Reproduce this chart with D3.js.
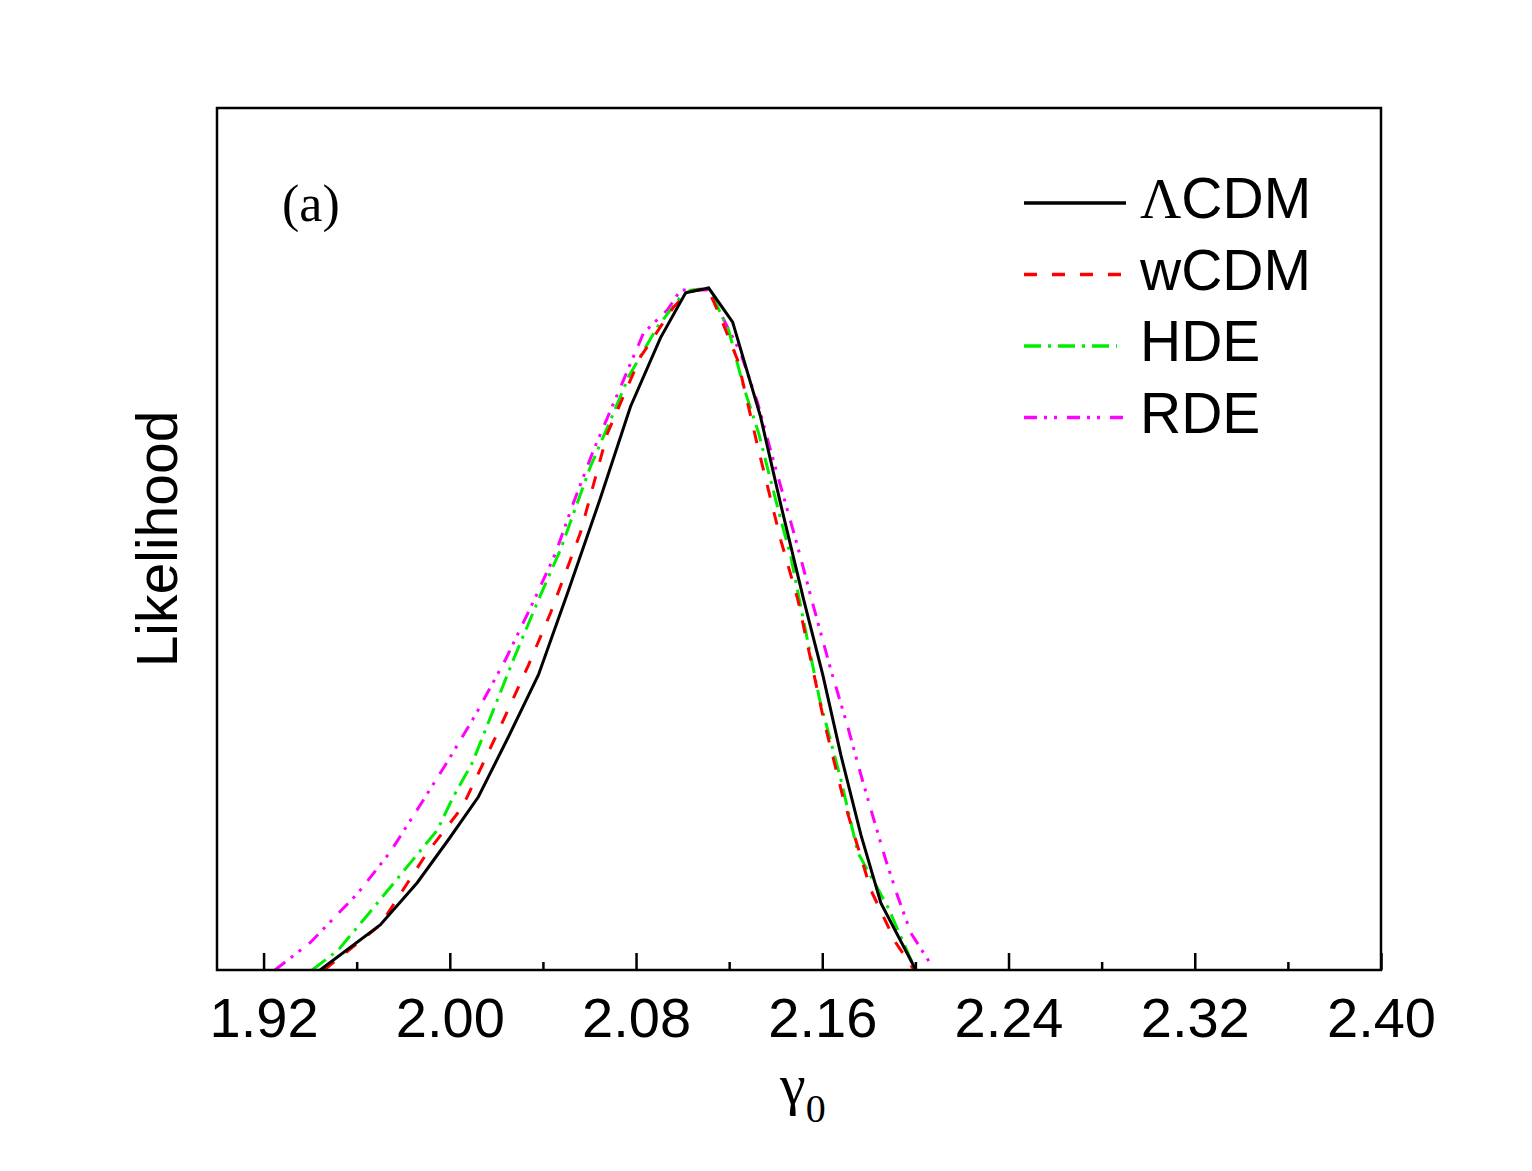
<!DOCTYPE html>
<html lang="en">
<head>
<meta charset="UTF-8">
<title>Likelihood of gamma0</title>
<script src="https://d3js.org/d3.v7.min.js"></script>
<style>
  body { margin: 0; background: #fff; }
  svg { display: block; }
</style>
</head>
<body>
<svg width="1532" height="1171"></svg>
<script>
// Data (gamma_0 vs normalised likelihood)
const lcdmGamma = [1.9443, 1.9701, 1.9860, 1.9994, 2.0123, 2.0252, 2.0381, 2.0510, 2.0647, 2.0776, 2.0905, 2.1013, 2.1112, 2.1215, 2.1335, 2.1422, 2.1520, 2.1602, 2.1680, 2.1766, 2.1852, 2.2002];
const lcdmL     = [0, 0.066, 0.128, 0.191, 0.254, 0.342, 0.433, 0.557, 0.692, 0.826, 0.927, 0.993, 1.0, 0.950, 0.811, 0.682, 0.543, 0.433, 0.315, 0.198, 0.098, 0];

const wcdmGamma = [1.9460, 1.9701, 1.9903, 2.0054, 2.0204, 2.0338, 2.0432, 2.0561, 2.0677, 2.0819, 2.0961, 2.1022, 2.1108, 2.1163, 2.1237, 2.1323, 2.1422, 2.1495, 2.1606, 2.1692, 2.1809, 2.1916, 2.1994];
const wcdmL     = [0, 0.066, 0.172, 0.239, 0.347, 0.447, 0.523, 0.641, 0.787, 0.899, 0.972, 0.994, 1.0, 0.957, 0.894, 0.767, 0.630, 0.543, 0.367, 0.249, 0.117, 0.040, 0];

const hdeGamma = [1.9409, 1.9520, 1.9645, 1.9787, 1.9946, 2.0015, 2.0097, 2.0187, 2.0273, 2.0381, 2.0475, 2.0604, 2.0690, 2.0768, 2.0892, 2.0991, 2.1034, 2.1112, 2.1198, 2.1262, 2.1327, 2.1370, 2.1422, 2.1465, 2.1516, 2.1589, 2.1680, 2.1753, 2.1882, 2.1981, 2.2002];
const hdeL     = [0, 0.029, 0.080, 0.139, 0.205, 0.254, 0.304, 0.381, 0.455, 0.543, 0.616, 0.738, 0.806, 0.870, 0.943, 0.987, 0.997, 1.0, 0.938, 0.855, 0.787, 0.729, 0.660, 0.606, 0.518, 0.396, 0.279, 0.172, 0.092, 0.015, 0];

const rdeGamma = [1.9249, 1.9400, 1.9606, 1.9744, 1.9873, 1.9989, 2.0110, 2.0239, 2.0359, 2.0454, 2.0531, 2.0617, 2.0746, 2.0832, 2.0935, 2.0991, 2.1108, 2.1163, 2.1249, 2.1323, 2.1378, 2.1434, 2.1495, 2.1563, 2.1637, 2.1710, 2.1766, 2.1822, 2.1873, 2.1925, 2.1981, 2.2054, 2.2075];
const rdeL     = [0, 0.040, 0.113, 0.173, 0.242, 0.305, 0.374, 0.455, 0.540, 0.611, 0.685, 0.762, 0.865, 0.934, 0.968, 0.997, 0.997, 0.963, 0.905, 0.831, 0.762, 0.694, 0.620, 0.532, 0.440, 0.356, 0.286, 0.220, 0.161, 0.107, 0.054, 0.015, 0];

const majorTicks = [1.92, 2.00, 2.08, 2.16, 2.24, 2.32, 2.40];
const minorTicks = [1.96, 2.04, 2.12, 2.20, 2.28, 2.36];

const seriesNames = ["ΛCDM", "wCDM", "HDE", "RDE"];

// layout
const svg = d3.select("svg");
const plotLeft = 217, plotRight = 1381, plotTop = 108, plotBottom = 970;

const x = d3.scaleLinear().domain([1.90, 2.40]).range([plotLeft, plotRight]);
const y = d3.scaleLinear().domain([0, 1.264]).range([plotBottom, plotTop]);

const series = [
  { name: seriesNames[0], g: lcdmGamma, L: lcdmL, color: "#000000", dash: null },
  { name: seriesNames[1], g: wcdmGamma, L: wcdmL, color: "#ff0000", dash: "13,15" },
  { name: seriesNames[2], g: hdeGamma,  L: hdeL,  color: "#00ee00", dash: "17,7,3,7" },
  { name: seriesNames[3], g: rdeGamma,  L: rdeL,  color: "#ff00ff", dash: "13,7,3,7,3,10" }
];

const line = d3.line().x(d => x(d[0])).y(d => y(d[1]));

// curves (black drawn last so it sits on top)
[series[3], series[2], series[1], series[0]].forEach(s => {
  svg.append("path")
    .datum(d3.zip(s.g, s.L))
    .attr("d", line)
    .attr("fill", "none")
    .attr("stroke", s.color)
    .attr("stroke-width", 3)
    .attr("stroke-dasharray", s.dash);
});

// frame
svg.append("rect")
  .attr("x", plotLeft).attr("y", plotTop)
  .attr("width", plotRight - plotLeft).attr("height", plotBottom - plotTop)
  .attr("fill", "none").attr("stroke", "#000").attr("stroke-width", 2.5);

// x axis, ticks pointing in
const xAxis = svg.append("g")
  .attr("transform", `translate(0,${plotBottom})`)
  .call(d3.axisBottom(x).tickValues(majorTicks).tickFormat(d3.format(".2f"))
    .tickSizeInner(-17).tickSizeOuter(0).tickPadding(27));
xAxis.select(".domain").remove();
xAxis.selectAll(".tick line").attr("stroke-width", 2.5);
xAxis.selectAll("text")
  .attr("font-family", "'Liberation Sans', Arial, sans-serif")
  .attr("font-size", 56).attr("fill", "#000");

const xMinor = svg.append("g")
  .attr("transform", `translate(0,${plotBottom})`)
  .call(d3.axisBottom(x).tickValues(minorTicks).tickFormat("")
    .tickSizeInner(-8).tickSizeOuter(0));
xMinor.select(".domain").remove();
xMinor.selectAll(".tick line").attr("stroke-width", 2.5);

// axis titles
const xt = svg.append("text")
  .attr("x", 780).attr("y", 1104)
  .attr("font-family", "'Liberation Serif', 'Times New Roman', serif")
  .attr("font-size", 58);
xt.append("tspan").text("γ");
xt.append("tspan").attr("font-size", 40).attr("dy", 18).text("0");

svg.append("text")
  .attr("transform", "translate(177,539) rotate(-90)")
  .attr("text-anchor", "middle")
  .attr("font-family", "'Liberation Sans', Arial, sans-serif")
  .attr("font-size", 57)
  .text("Likelihood");

// panel label
svg.append("text")
  .attr("x", 282).attr("y", 221)
  .attr("font-family", "'Liberation Serif', 'Times New Roman', serif")
  .attr("font-size", 52)
  .text("(a)");

// legend
const legend = svg.append("g");
series.forEach((s, i) => {
  const ly = 203 + i * 71.5;
  legend.append("line")
    .attr("x1", 1024).attr("x2", s.name === "HDE" ? 1117 : 1126)
    .attr("y1", ly).attr("y2", ly)
    .attr("stroke", s.color).attr("stroke-width", 3.5)
    .attr("stroke-dasharray", s.dash);
  const t = legend.append("text")
    .attr("x", 1140).attr("y", ly + 15)
    .attr("font-family", "'Liberation Sans', Arial, sans-serif")
    .attr("font-size", 57);
  if (s.name.startsWith("Λ")) {
    t.append("tspan").attr("font-family", "'Liberation Serif', 'Times New Roman', serif").text("Λ");
    t.append("tspan").text(s.name.slice(1));
  } else {
    t.text(s.name);
  }
});
</script>
</body>
</html>
